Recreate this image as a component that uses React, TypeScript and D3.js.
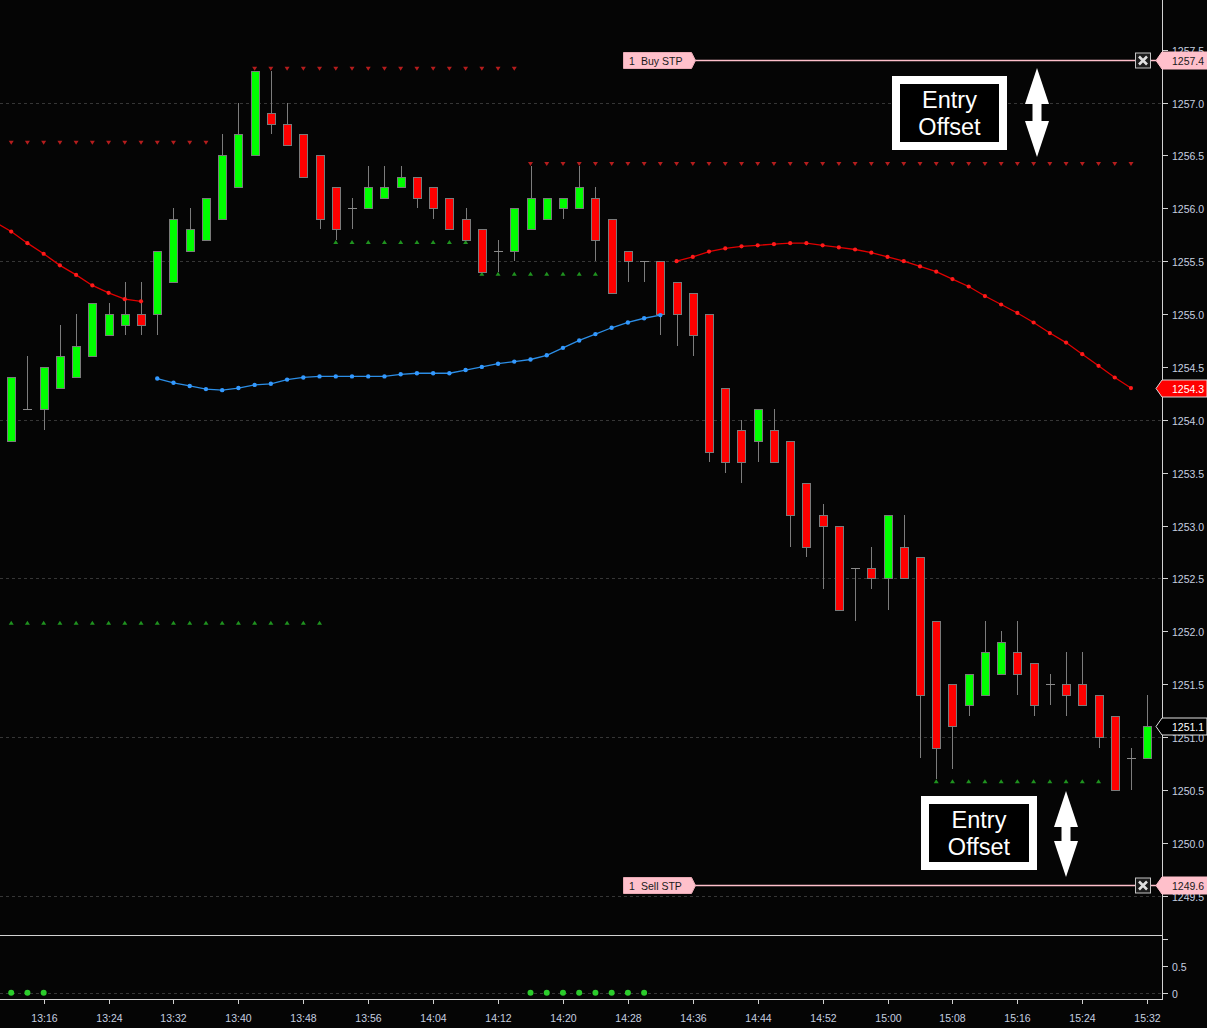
import React, { useEffect } from "react";
import * as d3 from "d3";

const W = 1207;
const H = 1028;

// 2-minute bars
const barTimes = [
  "13:12", "13:14", "13:16", "13:18", "13:20", "13:22", "13:24", "13:26", "13:28", "13:30",
  "13:32", "13:34", "13:36", "13:38", "13:40", "13:42", "13:44", "13:46", "13:48", "13:50",
  "13:52", "13:54", "13:56", "13:58", "14:00", "14:02", "14:04", "14:06", "14:08", "14:10",
  "14:12", "14:14", "14:16", "14:18", "14:20", "14:22", "14:24", "14:26", "14:28", "14:30",
  "14:32", "14:34", "14:36", "14:38", "14:40", "14:42", "14:44", "14:46", "14:48", "14:50",
  "14:52", "14:54", "14:56", "14:58", "15:00", "15:02", "15:04", "15:06", "15:08", "15:10",
  "15:12", "15:14", "15:16", "15:18", "15:20", "15:22", "15:24", "15:26", "15:28", "15:30",
  "15:32",
];

const opens = [
  1253.8, 1254.1, 1254.1, 1254.3, 1254.4, 1254.6, 1254.8, 1254.9, 1255.0, 1255.0,
  1255.3, 1255.6, 1255.7, 1255.9, 1256.2, 1256.5, 1256.9, 1256.8, 1256.7, 1256.5,
  1256.2, 1256.0, 1256.0, 1256.1, 1256.2, 1256.3, 1256.2, 1256.1, 1255.9, 1255.8,
  1255.6, 1255.6, 1255.8, 1255.9, 1256.0, 1256.0, 1256.1, 1255.9, 1255.6, 1255.5,
  1255.5, 1255.3, 1255.2, 1255.0, 1254.3, 1253.9, 1253.8, 1253.9, 1253.8, 1253.4,
  1253.1, 1253.0, 1252.6, 1252.6, 1252.5, 1252.8, 1252.7, 1252.1, 1251.5, 1251.3,
  1251.4, 1251.6, 1251.8, 1251.7, 1251.5, 1251.5, 1251.5, 1251.4, 1251.2, 1250.8,
  1250.8,
];
const highs = [
  1254.4, 1254.6, 1254.5, 1254.9, 1255.0, 1255.1, 1255.1, 1255.3, 1255.3, 1255.6,
  1256.0, 1256.0, 1256.1, 1256.7, 1257.0, 1257.3, 1257.3, 1257.0, 1256.7, 1256.5,
  1256.2, 1256.1, 1256.4, 1256.4, 1256.4, 1256.3, 1256.2, 1256.1, 1256.0, 1255.8,
  1255.7, 1256.0, 1256.4, 1256.1, 1256.1, 1256.4, 1256.2, 1255.9, 1255.6, 1255.5,
  1255.5, 1255.3, 1255.2, 1255.0, 1254.3, 1254.0, 1254.1, 1254.1, 1253.8, 1253.4,
  1253.2, 1253.0, 1252.6, 1252.8, 1253.1, 1253.1, 1252.7, 1252.1, 1251.5, 1251.6,
  1252.1, 1252.0, 1252.1, 1251.7, 1251.6, 1251.8, 1251.8, 1251.4, 1251.2, 1250.9,
  1251.4,
];
const lows = [
  1253.8, 1254.1, 1253.9, 1254.3, 1254.4, 1254.6, 1254.8, 1254.8, 1254.8, 1254.8,
  1255.3, 1255.6, 1255.7, 1255.9, 1256.2, 1256.5, 1256.7, 1256.6, 1256.3, 1255.8,
  1255.7, 1255.8, 1256.0, 1256.1, 1256.2, 1256.0, 1255.9, 1255.8, 1255.7, 1255.4,
  1255.4, 1255.5, 1255.8, 1255.9, 1255.9, 1256.0, 1255.5, 1255.2, 1255.3, 1255.3,
  1254.8, 1254.7, 1254.6, 1253.6, 1253.5, 1253.4, 1253.6, 1253.6, 1252.8, 1252.7,
  1252.4, 1252.2, 1252.1, 1252.4, 1252.2, 1252.5, 1250.8, 1250.6, 1250.7, 1251.2,
  1251.4, 1251.6, 1251.4, 1251.2, 1251.3, 1251.2, 1251.3, 1250.9, 1250.5, 1250.5,
  1250.8,
];
const closes = [
  1254.4, 1254.1, 1254.5, 1254.6, 1254.7, 1255.1, 1255.0, 1255.0, 1254.9, 1255.6,
  1255.9, 1255.8, 1256.1, 1256.5, 1256.7, 1257.3, 1256.8, 1256.6, 1256.3, 1255.9,
  1255.8, 1256.0, 1256.2, 1256.2, 1256.3, 1256.1, 1256.0, 1255.8, 1255.7, 1255.4,
  1255.6, 1256.0, 1256.1, 1256.1, 1256.1, 1256.2, 1255.7, 1255.2, 1255.5, 1255.5,
  1255.0, 1255.0, 1254.8, 1253.7, 1253.6, 1253.6, 1254.1, 1253.6, 1253.1, 1252.8,
  1253.0, 1252.2, 1252.6, 1252.5, 1253.1, 1252.5, 1251.4, 1250.9, 1251.1, 1251.6,
  1251.8, 1251.9, 1251.6, 1251.3, 1251.5, 1251.4, 1251.3, 1251.0, 1250.5, 1250.8,
  1251.1,
];

// moving averages, [time, value]
const redMaEarly: [string, number][] = [
  ["13:10", 1255.87], ["13:12", 1255.78], ["13:14", 1255.67], ["13:16", 1255.57],
  ["13:18", 1255.46], ["13:20", 1255.37], ["13:22", 1255.27], ["13:24", 1255.2],
  ["13:26", 1255.14], ["13:28", 1255.12],
];
const blueMa: [string, number][] = [
  ["13:30", 1254.39], ["13:32", 1254.35], ["13:34", 1254.32], ["13:36", 1254.29],
  ["13:38", 1254.28], ["13:40", 1254.3], ["13:42", 1254.33], ["13:44", 1254.34],
  ["13:46", 1254.38], ["13:48", 1254.4], ["13:50", 1254.41], ["13:52", 1254.41],
  ["13:54", 1254.41], ["13:56", 1254.41], ["13:58", 1254.41], ["14:00", 1254.43],
  ["14:02", 1254.44], ["14:04", 1254.44], ["14:06", 1254.44], ["14:08", 1254.47],
  ["14:10", 1254.5], ["14:12", 1254.53], ["14:14", 1254.55], ["14:16", 1254.57],
  ["14:18", 1254.61], ["14:20", 1254.68], ["14:22", 1254.75], ["14:24", 1254.81],
  ["14:26", 1254.87], ["14:28", 1254.92], ["14:30", 1254.96], ["14:32", 1254.99],
];
const redMaLate: [string, number][] = [
  ["14:34", 1255.5], ["14:36", 1255.54], ["14:38", 1255.59], ["14:40", 1255.62],
  ["14:42", 1255.64], ["14:44", 1255.65], ["14:46", 1255.66], ["14:48", 1255.67],
  ["14:50", 1255.67], ["14:52", 1255.65], ["14:54", 1255.63], ["14:56", 1255.61],
  ["14:58", 1255.58], ["15:00", 1255.54], ["15:02", 1255.5], ["15:04", 1255.45],
  ["15:06", 1255.4], ["15:08", 1255.33], ["15:10", 1255.26], ["15:12", 1255.17],
  ["15:14", 1255.09], ["15:16", 1255.01], ["15:18", 1254.92], ["15:20", 1254.82],
  ["15:22", 1254.73], ["15:24", 1254.62], ["15:26", 1254.51], ["15:28", 1254.4],
  ["15:30", 1254.3],
];

// swing high / low markers: [first bar, last bar, price]
const resistanceRuns: [number, number, number][] = [
  [0, 12, 1256.6],
  [15, 31, 1257.3],
  [32, 69, 1256.4],
];
const supportRuns: [number, number, number][] = [
  [0, 19, 1252.1],
  [20, 28, 1255.7],
  [29, 36, 1255.4],
  [57, 67, 1250.6],
];

// lower pane signal dots (bar indexes, value 0)
const signalBars = [0, 1, 2, 32, 33, 34, 35, 36, 37, 38, 39];

// working orders
const orderLabels = ["Buy STP", "Sell STP"];
const orderQty = [1, 1];
const orderPrices = [1257.4, 1249.6];

const xTickLabels = [
  "13:16", "13:24", "13:32", "13:40", "13:48", "13:56", "14:04", "14:12", "14:20",
  "14:28", "14:36", "14:44", "14:52", "15:00", "15:08", "15:16", "15:24", "15:32",
];
const priceTicks = [
  1249.5, 1250.0, 1250.5, 1251.0, 1251.5, 1252.0, 1252.5, 1253.0, 1253.5,
  1254.0, 1254.5, 1255.0, 1255.5, 1256.0, 1256.5, 1257.0, 1257.5,
];
const gridPrices = [1249.5, 1251.0, 1252.5, 1254.0, 1255.5, 1257.0];
const lowerTicks = [0, 0.5, 1];
const lowerTickLabels = ["0", "0.5", ""];

const FONT = "Arial, 'Liberation Sans', sans-serif";
const AXIS_TEXT = "#c6d0e0";
const AXIS_LINE = "#d2d2d2";
const BG = "#050505";

const parseT = d3.timeParse("%H:%M");
const tt = (s: string) => parseT(s) as Date;

export default function App() {
  useEffect(() => {
    document.body.style.margin = "0";
    document.body.style.background = BG;
  }, []);

  const axisX = 1162;
  const paneBottom = 935;
  const xAxisY = 999;

  const x = d3
    .scaleTime()
    .domain([tt("13:12"), tt("15:32")])
    .range([11.2, 1147.2]);
  const y = d3.scaleLinear().domain([1249.5, 1257.0]).range([895.7, 102.5]);
  const y2 = d3.scaleLinear().domain([0, 0.5]).range([992.7, 965.7]);

  const fmt1 = d3.format(".1f");

  const lineGen = d3
    .line<[string, number]>()
    .x((d) => x(tt(d[0])))
    .y((d) => y(d[1]));

  const candles = barTimes.map((t, i) => {
    const cx = Math.round(x(tt(t))) + 0.5;
    const o = opens[i], c = closes[i], h = highs[i], l = lows[i];
    const yo = y(o), yc = y(c), yh = y(h), yl = y(l);
    const up = c > o;
    const flat = c === o;
    const top = Math.round(Math.min(yo, yc)) + 0.5;
    const bot = Math.round(Math.max(yo, yc)) + 0.5;
    return (
      <g key={t}>
        <line x1={cx} x2={cx} y1={Math.round(yh)} y2={Math.round(yl)} stroke="#7c7c7c" strokeWidth={1} />
        {flat ? (
          <line x1={cx - 4.5} x2={cx + 4.5} y1={Math.round(yo) + 0.5} y2={Math.round(yo) + 0.5} stroke="#8a8a8a" strokeWidth={1} />
        ) : (
          <rect
            x={cx - 4}
            y={top}
            width={8}
            height={Math.max(1, bot - top)}
            fill={up ? "#00ff00" : "#ff0000"}
            stroke="#7a7a7a"
            strokeWidth={1}
          />
        )}
      </g>
    );
  });

  const triDown = (cx: number, cy: number) =>
    `M${cx - 2.5},${cy - 2}L${cx + 2.5},${cy - 2}L${cx},${cy + 2}Z`;
  const triUp = (cx: number, cy: number) =>
    `M${cx - 2.5},${cy + 2}L${cx + 2.5},${cy + 2}L${cx},${cy - 2}Z`;

  const markers: JSX.Element[] = [];
  resistanceRuns.forEach(([a, b, p], k) => {
    for (let i = a; i <= b; i++) {
      markers.push(
        <path key={`r${k}-${i}`} d={triDown(x(tt(barTimes[i])), y(p) - 2)} fill="#b51d1d" />
      );
    }
  });
  supportRuns.forEach(([a, b, p], k) => {
    for (let i = a; i <= b; i++) {
      markers.push(
        <path key={`s${k}-${i}`} d={triUp(x(tt(barTimes[i])), y(p) + 2)} fill="#1f931f" />
      );
    }
  });

  const maDots = (data: [string, number][], color: string, r: number, key: string) =>
    data.map((d) => (
      <circle key={key + d[0]} cx={x(tt(d[0]))} cy={y(d[1])} r={r} fill={color} />
    ));

  const doubleArrow = (cx: number, y0: number, y1: number) => {
    const hw = 12, hl = 36, sw = 4.5;
    const pts = [
      [cx, y0], [cx + hw, y0 + hl], [cx + sw, y0 + hl], [cx + sw, y1 - hl], [cx + hw, y1 - hl],
      [cx, y1], [cx - hw, y1 - hl], [cx - sw, y1 - hl], [cx - sw, y0 + hl], [cx - hw, y0 + hl],
    ];
    return pts.map((p) => p.join(",")).join(" ");
  };

  const offsetBox = (x0: number, y0: number, x1: number, y1: number, key: string) => {
    const cx = (x0 + x1) / 2;
    const cy = (y0 + y1) / 2;
    return (
      <g key={key}>
        <rect x={x0 + 4} y={y0 + 4} width={x1 - x0 - 8} height={y1 - y0 - 8} fill="#000" stroke="#fff" strokeWidth={8} />
        <text x={cx} y={cy - 13} textAnchor="middle" dominantBaseline="central" fill="#fff" fontSize={23.5} fontFamily={FONT}>
          Entry
        </text>
        <text x={cx} y={cy + 14} textAnchor="middle" dominantBaseline="central" fill="#fff" fontSize={23.5} fontFamily={FONT}>
          Offset
        </text>
      </g>
    );
  };

  const flag = (price: number, fill: string, stroke: string, textFill: string, key: string) => {
    const yy = Math.round(y(price)) + 0.5;
    const pts = [
      [1156, yy], [1162, yy - 8.5], [1207, yy - 8.5], [1207, yy + 8.5], [1162, yy + 8.5],
    ];
    return (
      <g key={key}>
        <polygon points={pts.map((p) => p.join(",")).join(" ")} fill={fill} stroke={stroke} strokeWidth={1} />
        <text x={1172} y={yy} dominantBaseline="central" fill={textFill} fontSize={10.5} fontFamily={FONT}>
          {fmt1(price)}
        </text>
      </g>
    );
  };

  const orders = orderPrices.map((p, k) => {
    const yy = Math.round(y(p)) + 0.5;
    const lx0 = 623.5, lx1 = 691.5;
    return (
      <g key={`o${k}`}>
        <line x1={lx1 + 3} x2={1156} y1={yy} y2={yy} stroke="#ffc0cb" strokeWidth={1.6} />
        <polygon
          points={`${lx0},${yy - 8} ${lx1},${yy - 8} ${lx1 + 4},${yy} ${lx1},${yy + 8} ${lx0},${yy + 8}`}
          fill="#ffc0cb"
          stroke="#e8a9b4"
          strokeWidth={1}
        />
        <text x={629} y={yy} dominantBaseline="central" fill="#1a1a1a" fontSize={10.5} fontFamily={FONT}>
          {orderQty[k]}
        </text>
        <text x={641} y={yy} dominantBaseline="central" fill="#1a1a1a" fontSize={10.5} fontFamily={FONT}>
          {orderLabels[k]}
        </text>
        <rect x={1135.5} y={yy - 7.5} width={15} height={15} fill="#1c1c1c" stroke="#c4c4c4" strokeWidth={1} />
        <path
          d={`M${1139},${yy - 4}L${1147},${yy + 4}M${1147},${yy - 4}L${1139},${yy + 4}`}
          stroke="#e0e0e0"
          strokeWidth={2.6}
        />
        {flag(p, "#ffc0cb", "#ffc0cb", "#1a1a1a", `f${k}`)}
      </g>
    );
  });

  const lastClose = closes[closes.length - 1];
  const lastRedMa = redMaLate[redMaLate.length - 1][1];

  return (
    <div style={{ position: "fixed", left: 0, top: 0, width: W, height: H, background: BG }}>
      <svg width={W} height={H} style={{ display: "block" }}>
        <defs>
          <clipPath id="pricePane">
            <rect x={0} y={0} width={axisX} height={paneBottom} />
          </clipPath>
        </defs>
        <rect x={0} y={0} width={W} height={H} fill={BG} />

        {/* grid */}
        {gridPrices.map((p) => (
          <line key={`g${p}`} x1={0} x2={axisX} y1={Math.round(y(p)) + 0.5} y2={Math.round(y(p)) + 0.5} stroke="#363636" strokeDasharray="3,3" />
        ))}
        <line x1={0} x2={axisX} y1={Math.round(y2(0)) + 0.5} y2={Math.round(y2(0)) + 0.5} stroke="#363636" strokeDasharray="3,3" />

        <g clipPath="url(#pricePane)">
          {markers}
          {candles}
          <path d={lineGen(redMaEarly) || ""} fill="none" stroke="#e00000" strokeWidth={1.3} />
          {maDots(redMaEarly, "#ff1a1a", 2.1, "re")}
          <path d={lineGen(blueMa) || ""} fill="none" stroke="#2c8ee6" strokeWidth={1.3} />
          {maDots(blueMa, "#3399ff", 2.2, "b")}
          <path d={lineGen(redMaLate) || ""} fill="none" stroke="#e00000" strokeWidth={1.3} />
          {maDots(redMaLate, "#ff1a1a", 2.1, "rl")}
        </g>

        {/* entry offset annotations */}
        {offsetBox(892, 76, 1007, 150, "eo1")}
        <polygon points={doubleArrow(1037, 68, 157)} fill="#ffffff" />
        {offsetBox(921, 796, 1037, 870, "eo2")}
        <polygon points={doubleArrow(1066, 791, 877)} fill="#ffffff" />

        {/* lower pane signals */}
        {signalBars.map((i) => (
          <circle key={`sig${i}`} cx={x(tt(barTimes[i]))} cy={y2(0)} r={3} fill="#2bcc2b" />
        ))}

        {/* pane borders and axes */}
        <line x1={0} x2={axisX} y1={paneBottom + 0.5} y2={paneBottom + 0.5} stroke={AXIS_LINE} />
        <line x1={axisX + 0.5} x2={axisX + 0.5} y1={0} y2={xAxisY} stroke={AXIS_LINE} />
        <line x1={0} x2={axisX + 1} y1={xAxisY + 0.5} y2={xAxisY + 0.5} stroke={AXIS_LINE} />

        {priceTicks.map((p) => {
          const yy = Math.round(y(p)) + 0.5;
          return (
            <g key={`pt${p}`}>
              <line x1={axisX} x2={axisX + 6} y1={yy} y2={yy} stroke={AXIS_LINE} />
              <text x={axisX + 10} y={yy} dominantBaseline="central" fill={AXIS_TEXT} fontSize={10.5} fontFamily={FONT}>
                {fmt1(p)}
              </text>
            </g>
          );
        })}
        {lowerTicks.map((v, k) => {
          const yy = Math.round(y2(v)) + 0.5;
          return (
            <g key={`lt${v}`}>
              <line x1={axisX} x2={axisX + 6} y1={yy} y2={yy} stroke={AXIS_LINE} />
              <text x={axisX + 10} y={yy} dominantBaseline="central" fill={AXIS_TEXT} fontSize={10.5} fontFamily={FONT}>
                {lowerTickLabels[k]}
              </text>
            </g>
          );
        })}
        {xTickLabels.map((s) => {
          const xx = Math.round(x(tt(s))) + 0.5;
          return (
            <g key={`xt${s}`}>
              <line x1={xx} x2={xx} y1={xAxisY} y2={xAxisY + 5} stroke={AXIS_LINE} />
              <text x={xx} y={1018} textAnchor="middle" dominantBaseline="central" fill={AXIS_TEXT} fontSize={10.5} fontFamily={FONT}>
                {s}
              </text>
            </g>
          );
        })}

        {/* price flags on the axis */}
        {flag(lastRedMa, "#ff0000", "#d8d8d8", "#ffffff", "fma")}
        {flag(lastClose, "#000000", "#e0e0e0", "#ffffff", "fcl")}
        {orders}
      </svg>
    </div>
  );
}
